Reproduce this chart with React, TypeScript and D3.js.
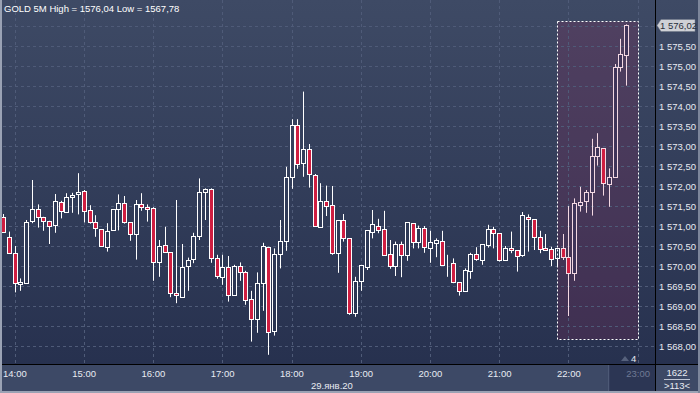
import React, { useRef, useEffect } from "react";
import * as d3 from "d3";

// GOLD 5-minute bars, 29 Jan 2020, 14:00 .. 23:00
const opens = [
  1571.23, 1570.72, 1570.32, 1569.57, 1569.59, 1571.11, 1571.42, 1571.23, 1571.13, 1571.03,
  1571.59, 1571.34, 1571.74, 1571.79, 1571.87, 1571.39, 1571.09, 1570.92, 1570.47, 1570.89,
  1571.42, 1571.57, 1571.09, 1570.79, 1571.54, 1571.48, 1571.44, 1570.09, 1570.52, 1570.34,
  1569.32, 1569.23, 1570.0, 1570.17, 1570.73, 1571.84, 1571.92, 1570.19, 1569.72, 1569.97,
  1569.27, 1570.0, 1569.84, 1569.17, 1568.67, 1569.57, 1570.47, 1568.37, 1570.3, 1570.63,
  1572.22, 1573.53, 1572.57, 1572.92, 1572.28, 1570.98, 1571.63, 1571.53, 1570.33, 1571.15,
  1570.69, 1568.82, 1569.63, 1569.98, 1570.86, 1571.01, 1570.92, 1570.29, 1569.98, 1570.54,
  1570.26, 1571.07, 1570.59, 1570.94, 1570.43, 1570.57, 1570.63, 1570.04, 1570.07, 1569.59,
  1569.38, 1569.86, 1570.29, 1570.13, 1570.54, 1570.93, 1570.82, 1570.15, 1570.44, 1570.4,
  1570.26, 1571.23, 1571.17, 1570.73, 1570.44, 1570.42, 1570.19, 1570.44, 1570.23, 1569.83,
  1571.54, 1571.61, 1571.84, 1572.75, 1572.94, 1572.04, 1572.22, 1574.97, 1575.28,
];
const highs = [
  1571.3, 1570.86, 1570.5, 1569.69, 1571.15, 1572.15, 1571.54, 1571.23, 1571.13, 1571.8,
  1571.63, 1571.82, 1571.83, 1572.32, 1571.9, 1571.52, 1571.27, 1570.92, 1571.07, 1571.42,
  1571.79, 1571.75, 1571.09, 1571.65, 1571.82, 1571.54, 1571.47, 1570.65, 1570.98, 1570.34,
  1571.65, 1570.55, 1570.21, 1570.83, 1572.19, 1571.94, 1571.94, 1570.28, 1570.28, 1570.25,
  1570.03, 1570.09, 1569.88, 1569.38, 1569.84, 1570.58, 1570.48, 1570.44, 1571.15, 1572.48,
  1573.67, 1573.67, 1574.36, 1573.05, 1572.3, 1572.07, 1572.01, 1572.0, 1571.15, 1571.3,
  1570.69, 1569.73, 1570.02, 1570.9, 1571.4, 1571.18, 1571.38, 1570.65, 1570.61, 1570.61,
  1571.09, 1571.07, 1571.01, 1571.0, 1570.88, 1570.69, 1570.88, 1570.28, 1570.19, 1569.59,
  1569.94, 1570.33, 1570.47, 1570.54, 1571.03, 1570.98, 1570.82, 1570.5, 1570.86, 1570.4,
  1571.35, 1571.29, 1571.17, 1570.88, 1570.8, 1570.48, 1570.44, 1570.8, 1571.5, 1571.69,
  1571.98, 1571.9, 1573.18, 1573.32, 1572.94, 1572.44, 1575.05, 1575.68, 1576.04,
];
const lows = [
  1570.83, 1570.32, 1569.34, 1569.38, 1569.59, 1571.07, 1570.96, 1570.88, 1570.55, 1570.83,
  1571.19, 1571.34, 1571.33, 1571.29, 1571.09, 1571.06, 1570.73, 1570.49, 1570.36, 1570.89,
  1570.89, 1571.06, 1570.63, 1570.16, 1571.38, 1571.11, 1569.63, 1569.73, 1570.34, 1569.22,
  1569.07, 1569.22, 1569.38, 1570.07, 1570.65, 1571.15, 1570.08, 1569.68, 1569.53, 1569.11,
  1569.27, 1569.63, 1569.03, 1568.11, 1568.33, 1568.88, 1567.78, 1568.26, 1569.94, 1570.38,
  1571.93, 1572.43, 1572.23, 1571.96, 1571.01, 1570.98, 1571.25, 1570.28, 1569.83, 1570.61,
  1568.78, 1568.73, 1569.38, 1569.9, 1570.69, 1570.82, 1570.26, 1569.93, 1569.75, 1569.72,
  1570.13, 1570.44, 1570.44, 1570.33, 1570.08, 1570.22, 1570.04, 1569.73, 1569.57, 1569.26,
  1569.38, 1569.68, 1570.13, 1570.03, 1570.46, 1570.44, 1570.11, 1570.13, 1570.32, 1569.86,
  1570.23, 1570.36, 1570.4, 1570.32, 1570.39, 1570.0, 1570.0, 1570.15, 1568.75, 1569.63,
  1571.36, 1571.33, 1571.26, 1572.51, 1571.76, 1571.48, 1572.22, 1574.86, 1574.51,
];
const closes = [
  1570.86, 1570.32, 1569.57, 1569.61, 1571.11, 1571.42, 1571.22, 1571.14, 1571.01, 1571.62,
  1571.37, 1571.72, 1571.78, 1571.84, 1571.37, 1571.09, 1570.93, 1570.49, 1570.87, 1571.42,
  1571.57, 1571.09, 1570.79, 1571.54, 1571.47, 1571.44, 1570.09, 1570.5, 1570.34, 1569.32,
  1569.27, 1569.98, 1570.15, 1570.75, 1571.84, 1571.92, 1570.19, 1569.73, 1569.98, 1569.27,
  1570.0, 1569.84, 1569.13, 1568.67, 1569.57, 1570.5, 1568.34, 1570.3, 1570.63, 1572.22,
  1573.53, 1572.55, 1572.92, 1572.29, 1571.01, 1571.63, 1571.5, 1570.33, 1571.15, 1570.69,
  1568.82, 1569.63, 1570.02, 1570.9, 1571.05, 1570.92, 1570.26, 1569.98, 1570.54, 1570.26,
  1571.09, 1570.59, 1570.94, 1570.46, 1570.59, 1570.64, 1570.04, 1570.04, 1569.59, 1569.36,
  1569.9, 1570.29, 1570.17, 1570.54, 1570.93, 1570.82, 1570.15, 1570.44, 1570.38, 1570.25,
  1571.27, 1571.17, 1570.73, 1570.44, 1570.39, 1570.17, 1570.44, 1570.22, 1569.82, 1571.57,
  1571.61, 1571.84, 1572.75, 1572.97, 1572.07, 1572.22, 1574.97, 1575.29, 1576.02,
];

const timeLabels = ["14:00", "15:00", "16:00", "17:00", "18:00", "19:00", "20:00", "21:00", "22:00"];
const futureLabel = "23:00";
const dateLabel = "29.янв.20";
const priceTicks = [1568, 1568.5, 1569, 1569.5, 1570, 1570.5, 1571, 1571.5, 1572, 1572.5, 1573, 1573.5, 1574, 1574.5, 1575, 1575.5];
const gridPrices = [...priceTicks, 1576];
const symbolName = "GOLD 5M";
const barsCount = "1622";
const shiftLabel = ">113<";
const shiftCount = "4";
// highlighted region: bar index range and price range
const boxBars = [96, 110];
const boxPrices = [1568.18, 1576.12];

const W = 700;
const H = 393;
const plotRight = 655;
const axisY = 364;
const barsPerHour = 12;

const ruLocale = d3.formatLocale({ decimal: ",", thousands: " ", grouping: [3], currency: ["", ""] });
const fmtAxis = ruLocale.format(",.2f");
const fmtPlain = ruLocale.format(".2f");

const GoldChart: React.FC = () => {
  const svgRef = useRef<SVGSVGElement | null>(null);

  useEffect(() => {
    if (!svgRef.current) return;
    const svg = d3.select(svgRef.current);
    svg.selectAll("*").remove();

    const n = opens.length;
    const x = d3.scaleLinear().domain([0, n - 1]).range([3, 626.2]);
    const y = d3.scaleLinear().domain([1568, 1576]).range([346, 26]);

    const defs = svg.append("defs");
    const bg = defs
      .append("linearGradient")
      .attr("id", "bg-grad")
      .attr("gradientUnits", "userSpaceOnUse")
      .attr("x1", 0).attr("y1", 0).attr("x2", 0).attr("y2", H);
    bg.append("stop").attr("offset", "0%").attr("stop-color", "#3e4a65");
    bg.append("stop").attr("offset", "100%").attr("stop-color", "#252f4d");

    defs.append("clipPath").attr("id", "plot-clip")
      .append("rect").attr("x", 2).attr("y", 0).attr("width", plotRight - 2).attr("height", axisY);

    // background
    svg.append("rect").attr("width", W).attr("height", H).attr("fill", "url(#bg-grad)");
    svg.append("rect").attr("x", 0).attr("y", axisY).attr("width", W).attr("height", H - axisY).attr("fill", "#3d4966");
    const futX = x(n - 1) - 18;
    svg.append("rect").attr("x", futX).attr("y", axisY).attr("width", plotRight - futX).attr("height", H - axisY - 2).attr("fill", "#2c3654");
    svg.append("line").attr("x1", futX + 0.5).attr("x2", futX + 0.5).attr("y1", axisY).attr("y2", H - 2)
      .attr("stroke", "#56627e");

    // highlighted zone fill (behind candles)
    const bx = Math.round(x(boxBars[0])) + 0.5;
    const by = Math.round(y(boxPrices[1])) + 0.5;
    const bw = Math.round(x(boxBars[1]) - x(boxBars[0]));
    const bh = Math.round(y(boxPrices[0]) - y(boxPrices[1]));
    svg.append("rect").attr("x", bx).attr("y", by).attr("width", bw).attr("height", bh)
      .attr("fill", "rgba(134,38,89,0.25)");

    // grid
    const grid = svg.append("g").attr("stroke", "#4f5b78").attr("stroke-dasharray", "3,3").attr("stroke-width", 1);
    grid.selectAll("line.h").data(gridPrices).join("line")
      .attr("x1", 3).attr("x2", plotRight)
      .attr("y1", (d) => Math.round(y(d)) + 0.5).attr("y2", (d) => Math.round(y(d)) + 0.5);
    const vIdx = d3.range(2, n + 3, barsPerHour);
    grid.selectAll("line.v").data(vIdx).join("line")
      .attr("x1", (d) => Math.round(x(d)) + 0.5).attr("x2", (d) => Math.round(x(d)) + 0.5)
      .attr("y1", 0).attr("y2", axisY);

    // candles
    const bars = d3.range(n);
    const cg = svg.append("g").attr("clip-path", "url(#plot-clip)");
    const cx = (i: number) => Math.round(x(i)) + 0.5;
    const edge = (i: number) => (i > boxBars[0] ? "#f3d8e2" : "#ffffff");
    cg.selectAll("line.wick").data(bars).join("line")
      .attr("x1", cx).attr("x2", cx)
      .attr("y1", (i) => y(highs[i])).attr("y2", (i) => y(lows[i]))
      .attr("stroke", edge).attr("stroke-width", 1);
    cg.selectAll("rect.body").data(bars).join("rect")
      .attr("x", (i) => cx(i) - 2)
      .attr("width", 4)
      .attr("y", (i) => Math.round(y(Math.max(opens[i], closes[i]))) + 0.5)
      .attr("height", (i) => Math.max(0, Math.round(Math.abs(y(opens[i]) - y(closes[i])))))
      .attr("fill", (i) => (closes[i] >= opens[i] ? (i > boxBars[0] ? "#3f3459" : "url(#bg-grad)") : "#cf1e41"))
      .attr("stroke", edge).attr("stroke-width", 1);

    // highlighted zone border
    svg.append("rect").attr("x", bx).attr("y", by).attr("width", bw).attr("height", bh)
      .attr("fill", "none")
      .attr("stroke", "#ffffff").attr("stroke-width", 1).attr("stroke-dasharray", "2,2");

    // separators
    svg.append("line").attr("x1", plotRight + 0.5).attr("x2", plotRight + 0.5).attr("y1", 0).attr("y2", H - 2)
      .attr("stroke", "#000000");
    svg.append("line").attr("x1", 2).attr("x2", W).attr("y1", axisY + 0.5).attr("y2", axisY + 0.5)
      .attr("stroke", "#000000");

    const font = "'Liberation Sans', Arial, sans-serif";

    // price axis
    svg.append("g").selectAll("text").data(priceTicks).join("text")
      .attr("x", 659).attr("y", (d) => y(d) + 3.5)
      .attr("fill", "#e8ebf2").attr("font-family", font).attr("font-size", 9.5)
      .text((d) => fmtAxis(d));

    // last price tag
    const last = closes[n - 1];
    const ly = Math.round(y(last)) + 0.5;
    svg.append("path")
      .attr("d", `M657,${ly} L661,${ly - 6} L695,${ly - 6} L695,${ly + 6} L661,${ly + 6} Z`)
      .attr("fill", "#cfd1d6").attr("stroke", "#6b7284").attr("stroke-width", 0.5);
    svg.append("text").attr("x", 660).attr("y", ly + 3.5)
      .attr("fill", "#2a2f3a").attr("font-family", font).attr("font-size", 9.5)
      .text(fmtAxis(last));

    // time axis
    svg.append("g").selectAll("text").data(timeLabels).join("text")
      .attr("x", (_, k) => x(k * barsPerHour)).attr("y", 377)
      .attr("fill", "#e8ebf2").attr("font-family", font).attr("font-size", 9.5)
      .text((d) => d);
    svg.append("text").attr("x", x(timeLabels.length * barsPerHour)).attr("y", 377)
      .attr("fill", "#6f7a95").attr("font-family", font).attr("font-size", 9.5)
      .text(futureLabel);
    svg.append("text").attr("x", 311).attr("y", 389)
      .attr("fill", "#e8ebf2").attr("font-family", font).attr("font-size", 9.5)
      .text(dateLabel);

    // shift marker
    svg.append("path").attr("d", "M621,361 L625,356 L629,361 Z").attr("fill", "#56617c");
    svg.append("text").attr("x", 631).attr("y", 362)
      .attr("fill", "#e8ebf2").attr("font-family", font).attr("font-size", 9.5)
      .text(shiftCount);

    // bars count box
    svg.append("text").attr("x", 677).attr("y", 376).attr("text-anchor", "middle")
      .attr("fill", "#e8ebf2").attr("font-family", font).attr("font-size", 9.5)
      .text(barsCount);
    svg.append("line").attr("x1", 664).attr("x2", 690).attr("y1", 379.5).attr("y2", 379.5)
      .attr("stroke", "#c0c6d4");
    svg.append("text").attr("x", 677).attr("y", 389).attr("text-anchor", "middle")
      .attr("fill", "#e8ebf2").attr("font-family", font).attr("font-size", 9.5)
      .text(shiftLabel);

    // title
    svg.append("text").attr("x", 4).attr("y", 12)
      .attr("fill", "#ffffff").attr("font-family", font).attr("font-size", 9.5)
      .text(`${symbolName} High = ${fmtPlain(d3.max(highs) as number)} Low = ${fmtPlain(d3.min(lows) as number)}`);

    // frame
    svg.append("line").attr("x1", 1).attr("x2", 1).attr("y1", 0).attr("y2", H).attr("stroke", "#9aa2b4").attr("stroke-width", 2);
    svg.append("line").attr("x1", 0).attr("x2", W).attr("y1", H - 1).attr("y2", H - 1).attr("stroke", "#9aa2b4").attr("stroke-width", 2);
    svg.append("line").attr("x1", W - 1).attr("x2", W - 1).attr("y1", 0).attr("y2", H).attr("stroke", "#7d869b").attr("stroke-width", 2);
  }, []);

  return (
    <svg
      ref={svgRef}
      width={W}
      height={H}
      style={{ position: "absolute", left: 0, top: 0, display: "block" }}
    />
  );
};

export default function App() {
  return <GoldChart />;
}
